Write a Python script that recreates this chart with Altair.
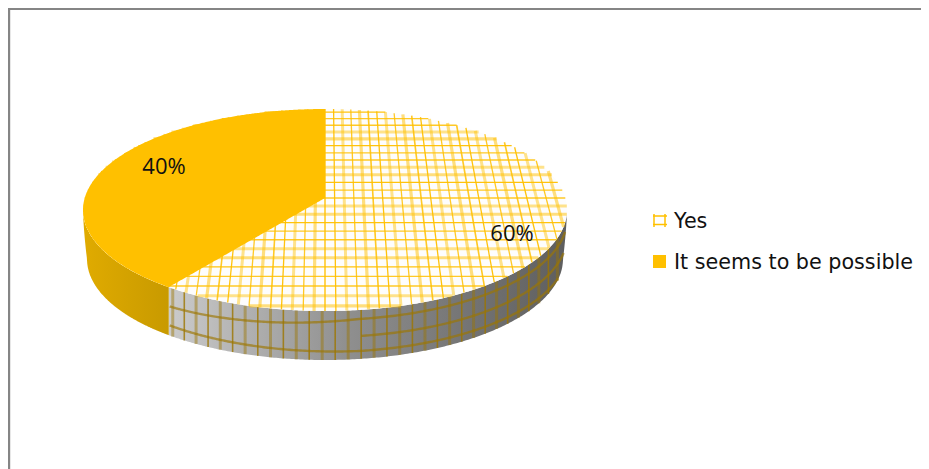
import numpy as np
import pandas as pd
import altair as alt

categories = ["Yes", "It seems to be possible"]
shares = [60, 40]
share_labels = ["60%", "40%"]

ORANGE = "#FFC000"
FONT = "Open Sans"
cx, cy, rx, ry = 325.0, 210.0, 242.0, 101.0
apex_y, depth = 198.0, 49.0
k, p = -0.1188, 76.05
A = 240.3


def project(u, v):
    d = 1 + k * v
    return cx + A * u / d, (apex_y + p * v) / d


def upper(x):
    return cy - ry * np.sqrt(np.clip(1 - ((x - cx) / rx) ** 2, 0, 1))


def lower(x):
    return cy + ry * np.sqrt(np.clip(1 - ((x - cx) / rx) ** 2, 0, 1))


def wall_bottom(x):
    r2 = rx - 4
    inner = np.abs(x - cx) <= r2
    out = np.where(inner, cy + depth + ry * np.sqrt(np.clip(1 - ((x - cx) / r2) ** 2, 0, 1)), 0.0)
    return np.where(inner, out, lower(x) + (cy + depth - lower(x)) * (rx - np.abs(x - cx)) / 4)


X = alt.X("x:Q", scale=alt.Scale(domain=[8, 921], nice=False, zero=False), axis=None)
Y = alt.Y("y:Q", scale=alt.Scale(domain=[469, 8], nice=False, zero=False), axis=None)

theta = np.radians(shares[1] / sum(shares) * 360)
edge_x, edge_y = project(-np.sin(theta), -np.cos(theta))


def span(a, b, n=260):
    t = np.linspace(0, np.pi, n)
    return a + (b - a) * (1 - np.cos(t)) / 2


# side walls
def wall(a, b):
    xs = span(a, b)
    return pd.DataFrame({"x": xs, "y": lower(xs), "y2": wall_bottom(xs)})


gray_grad = alt.LinearGradient(
    gradient="linear", x1=0, x2=1, y1=0, y2=0,
    stops=[alt.GradientStop(color="#CBCBCB", offset=0),
           alt.GradientStop(color="#8F8F8F", offset=0.45),
           alt.GradientStop(color="#5E5E5E", offset=1)])
gold_grad = alt.LinearGradient(
    gradient="linear", x1=0, x2=1, y1=0, y2=0,
    stops=[alt.GradientStop(color="#E0AB00", offset=0),
           alt.GradientStop(color="#C89A00", offset=1)])

gray_wall = alt.Chart(wall(edge_x, cx + rx)).mark_area(color=gray_grad).encode(X, Y, y2="y2:Q")
gold_wall = alt.Chart(wall(cx - rx, edge_x)).mark_area(color=gold_grad).encode(X, Y, y2="y2:Q")

# hatch on the gray wall
rows = []
vx = edge_x + 4.0
i = 0
while vx < cx + rx - 3:
    c = np.sqrt(max(1 - ((vx - cx) / rx) ** 2, 0))
    rows.append({"x": vx, "y": float(lower(vx)), "x2": vx, "y2": float(wall_bottom(vx)),
                 "w": 1.6 if i % 2 else 3.0, "o": 0.8 if i % 2 else 0.45})
    vx += 6.5 + 6.5 * c
    i += 1
wall_v = pd.DataFrame(rows)
wall_rules = alt.Chart(wall_v).mark_rule(color="#9C7600").encode(
    X, Y, x2="x2:Q", y2="y2:Q",
    strokeWidth=alt.StrokeWidth("w:Q", scale=None),
    opacity=alt.Opacity("o:Q", scale=None))

xs = span(edge_x + 1, cx + rx - 2)
curves = []
off_a = np.interp(xs, [170, 360, 570], [19, 9, 9])
off_c = np.interp(xs, [170, 360, 570], [38, 41, 41])
for name, off, lo in (("a", off_a, 168), ("b", np.full_like(xs, 26.0), 360), ("c", off_c, 168)):
    yy = lower(xs) + off
    keep = (yy < wall_bottom(xs) - 1) & (xs >= lo)
    curves.append(pd.DataFrame({"x": xs[keep], "y": yy[keep], "curve": name}))
wall_curves = alt.Chart(pd.concat(curves)).mark_line(color="#9C7600", strokeWidth=2.4, opacity=0.65).encode(
    X, Y, detail="curve:N", order=alt.Order("x:Q"))

# top face
xs = span(cx - rx, cx + rx, 400)
disk = alt.Chart(pd.DataFrame({"x": xs, "y": upper(xs), "y2": lower(xs)})).mark_area(color="#FDFDFD").encode(
    X, Y, y2="y2:Q")

styles = [(1.3, 0.95), (3.0, 0.45), (1.3, 0.85), (3.2, 0.5), (1.6, 0.85)]
rows = []
for i, u in enumerate(np.arange(-24, 25) * 0.04):
    h = np.sqrt(1 - u ** 2)
    x1, y1 = project(u, -h)
    x2, y2 = project(u, h)
    w, o = styles[i % 5]
    rows.append({"x": x1, "y": y1, "x2": x2, "y2": y2, "w": w, "o": o})
for i, v in enumerate(np.arange(-12, 13) * 0.08):
    h = np.sqrt(1 - v ** 2)
    x1, y1 = project(-h, v)
    x2, y2 = project(h, v)
    w, o = styles[(i * 2) % 5]
    rows.append({"x": x1, "y": y1, "x2": x2, "y2": y2, "w": w, "o": o})
hatch = alt.Chart(pd.DataFrame(rows)).mark_rule(color=ORANGE).encode(
    X, Y, x2="x2:Q", y2="y2:Q",
    strokeWidth=alt.StrokeWidth("w:Q", scale=None),
    opacity=alt.Opacity("o:Q", scale=None))

# the 40% slice
xs = span(cx - rx, cx, 300)
xs = np.sort(np.append(xs, edge_x))
chord = apex_y + (edge_y - apex_y) * (cx - xs) / (cx - edge_x)
slice_df = pd.DataFrame({"x": xs, "y": upper(xs), "y2": np.where(xs < edge_x, lower(xs), chord)})
slice_mark = alt.Chart(slice_df).mark_area(color=ORANGE).encode(X, Y, y2="y2:Q")

# value labels
labels = alt.Chart(pd.DataFrame({"x": [512, 164], "y": [233.5, 167], "t": share_labels})).mark_text(
    font=FONT, fontSize=22, color="#111111", align="center", baseline="middle").encode(X, Y, text="t:N")

# legend
legend_text = alt.Chart(pd.DataFrame({"x": [674, 674], "y": [221.5, 262.5], "t": categories})).mark_text(
    font="DejaVu Sans", fontSize=20.7, color="#111111", align="left", baseline="middle").encode(X, Y, text="t:N")
legend_gold = alt.Chart(pd.DataFrame({"x": [659.5], "y": [261.5]})).mark_square(
    size=170, color=ORANGE, opacity=1).encode(X, Y)
key = pd.DataFrame([
    {"x": 654, "y": 214, "x2": 654, "y2": 227},
    {"x": 665, "y": 214, "x2": 665, "y2": 227},
    {"x": 653, "y": 216, "x2": 667, "y2": 216},
    {"x": 653, "y": 224.5, "x2": 667, "y2": 224.5},
])
legend_key = alt.Chart(key).mark_rule(color=ORANGE, strokeWidth=1.5).encode(X, Y, x2="x2:Q", y2="y2:Q")

# frame
frame = pd.DataFrame([
    {"x": 9, "y": 8.8, "x2": 9, "y2": 469},
    {"x": 8, "y": 8.8, "x2": 921, "y2": 8.8},
])
frame_mark = alt.Chart(frame).mark_rule(color="#858585", strokeWidth=2.4).encode(X, Y, x2="x2:Q", y2="y2:Q")

chart = alt.layer(
    frame_mark, gray_wall, wall_rules, wall_curves, gold_wall,
    disk, hatch, slice_mark, labels, legend_key, legend_gold, legend_text,
).properties(
    width=913, height=461, padding=0, background="white",
    autosize=alt.AutoSizeParams(type="none"),
).configure_view(stroke=None)

chart.save("out.html", embed_options={"renderer": "svg", "actions": False})
